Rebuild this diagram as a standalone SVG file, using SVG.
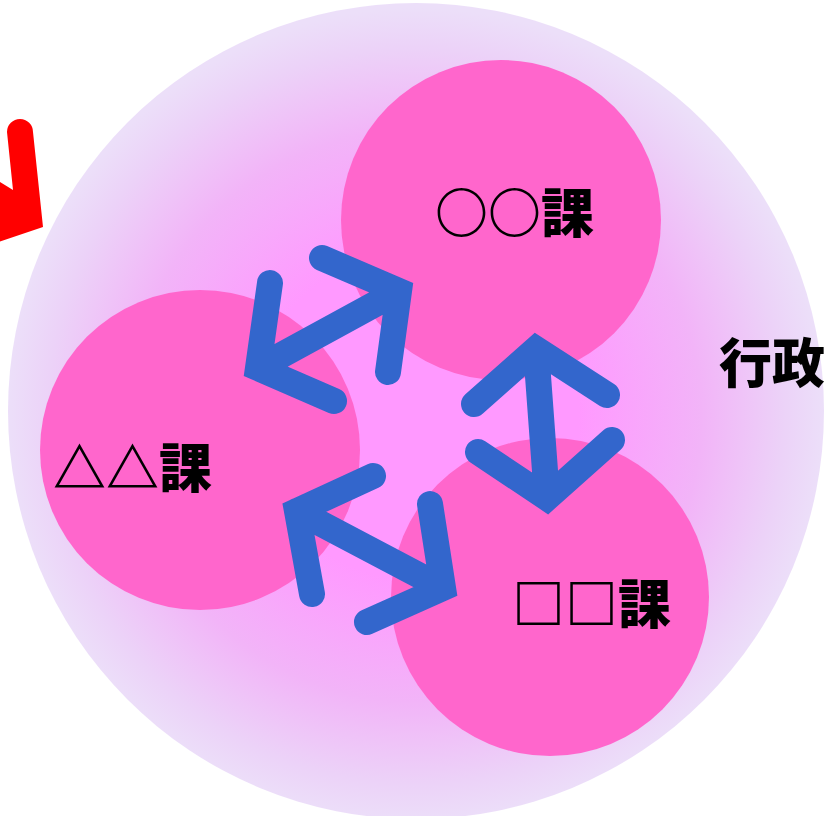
<svg xmlns="http://www.w3.org/2000/svg" width="829" height="816" viewBox="0 0 829 816">
<defs>
<radialGradient id="bg" cx="416" cy="416" r="408" gradientUnits="userSpaceOnUse">
<stop offset="0" stop-color="#ff99ff"/>
<stop offset="0.4" stop-color="#ff99ff"/>
<stop offset="0.7" stop-color="#f2b4f8"/>
<stop offset="0.9" stop-color="#ecd2f8"/>
<stop offset="1" stop-color="#ecdff9"/>
</radialGradient>
<style>
.unit{fill:#ff66cc}
.lbl{font-family:"Noto Sans CJK JP","Noto Sans CJK SC",sans-serif;font-size:53px;font-weight:900;fill:#000}
.arr{fill:none;stroke:#3366cc;stroke-width:26;stroke-linecap:round;stroke-linejoin:miter;stroke-miterlimit:10}
</style>
</defs>
<g id="red-arrow">
<path d="M7 132 A13 13 0 0 1 33 132 L43 227 L-10 245 L-10 176 L13 190 Z" fill="#ff0000"/>
</g>
<g id="gyosei">
<circle cx="416" cy="411" r="408" fill="url(#bg)"/>
<text class="lbl" x="719" y="383">行政</text>
</g>
<g id="maru">
<circle class="unit" cx="501" cy="220" r="160"/>
<text class="lbl" x="435" y="233">○○課</text>
</g>
<g id="sankaku">
<circle class="unit" cx="200" cy="450" r="160"/>
<text class="lbl" x="53" y="488">△△課</text>
</g>
<g id="shikaku">
<circle class="unit" cx="550" cy="597" r="159"/>
<text class="lbl" x="512" y="624">□□課</text>
</g>
<g id="connectors">
<path class="arr" d="M322 258 L399 291 L388 372 M399 291 L258 368 M270 283 L258 368 L334 401"/>
<path class="arr" d="M474 404 L536 349 L607 395 M536 349 L547 498 M478 452 L547 498 L612 440"/>
<path class="arr" d="M373 476 L297 511 L312 594 M297 511 L443 588 M430 504 L443 588 L367 622"/>
</g>
</svg>
